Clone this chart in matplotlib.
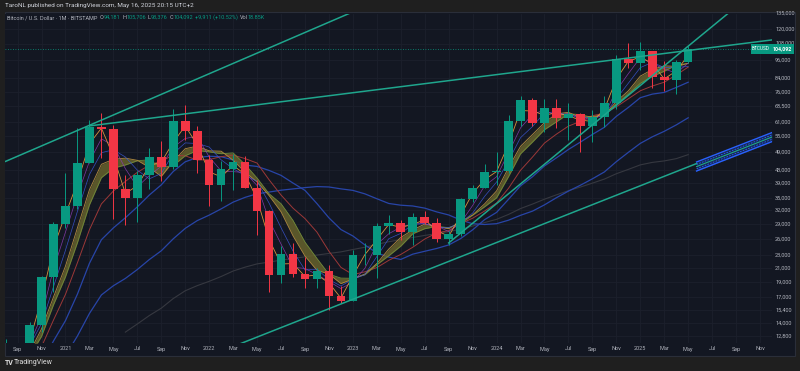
import numpy as np
import pandas as pd
import matplotlib
matplotlib.use("Agg")
import matplotlib.pyplot as plt
from matplotlib.patches import Rectangle
from matplotlib.transforms import blended_transform_factory

plt.rcParams['font.family'] = ['Roboto', 'DejaVu Sans']

# ---------------- data (monthly BTC/USD, Bitstamp) ----------------
months = ['2020-08', '2020-09', '2020-10', '2020-11', '2020-12',
          '2021-01', '2021-02', '2021-03', '2021-04', '2021-05', '2021-06',
          '2021-07', '2021-08', '2021-09', '2021-10', '2021-11', '2021-12',
          '2022-01', '2022-02', '2022-03', '2022-04', '2022-05', '2022-06',
          '2022-07', '2022-08', '2022-09', '2022-10', '2022-11', '2022-12',
          '2023-01', '2023-02', '2023-03', '2023-04', '2023-05', '2023-06',
          '2023-07', '2023-08', '2023-09', '2023-10', '2023-11', '2023-12',
          '2024-01', '2024-02', '2024-03', '2024-04', '2024-05', '2024-06',
          '2024-07', '2024-08', '2024-09', '2024-10', '2024-11', '2024-12',
          '2025-01', '2025-02', '2025-03', '2025-04', '2025-05']
opens = [11350, 11650, 10780, 13800, 19700,
         28990, 33110, 45190, 58760, 57700, 37300,
         35040, 41460, 47100, 43800, 61300, 57000,
         46200, 38480, 43180, 45530, 37640, 31790,
         19930, 23300, 20050, 19430, 20490, 17160,
         16540, 23130, 23140, 28460, 29250, 27210,
         30470, 29230, 25940, 26970, 34660, 37720,
         42280, 42580, 61170, 71330, 60650, 67520,
         62770, 64620, 58970, 63330, 70220, 96400,
         93380, 102400, 84350, 82550, 94181]
highs = [12480, 12080, 14100, 19860, 29300,
         41950, 58350, 61780, 64900, 59500, 41300,
         42600, 50500, 52900, 67000, 69000, 59100,
         47950, 45800, 48200, 47450, 40000, 31980,
         24650, 25200, 22800, 21000, 21450, 18400,
         23950, 25250, 29200, 31000, 29850, 31430,
         31800, 30180, 27480, 35000, 38450, 44700,
         48970, 64000, 73800, 72800, 71950, 71980,
         70000, 65100, 66500, 73620, 99650, 108300,
         109350, 102500, 95000, 95750, 105706]
lows = [10950, 9880, 10380, 13200, 17600,
        28130, 32300, 45000, 47000, 30000, 28800,
        29300, 37330, 39600, 43300, 53300, 42000,
        32950, 34300, 37200, 37700, 26700, 17600,
        18780, 19600, 18150, 18200, 15480, 16300,
        16500, 21400, 19570, 26940, 25800, 24750,
        28860, 25350, 24900, 26550, 34100, 37650,
        38500, 41880, 59000, 59100, 56550, 58400,
        53500, 49000, 52550, 58900, 66800, 90500,
        89200, 78200, 76600, 74500, 93376]
closes = [11650, 10780, 13800, 19700, 28990,
          33110, 45190, 58760, 57700, 37300, 35040,
          41460, 47100, 43800, 61300, 57000, 46200,
          38480, 43180, 45530, 37640, 31790, 19930,
          23300, 20050, 19430, 20490, 17160, 16540,
          23130, 23140, 28460, 29250, 27210, 30470,
          29230, 25940, 26970, 34660, 37720, 42280,
          42580, 61170, 71330, 60650, 67520, 62770,
          64620, 58970, 63330, 70220, 96400, 93380,
          102400, 84350, 82550, 94181, 104092]
# monthly closes Jul 2017 .. Jul 2020 (history feeding the moving averages)
history_closes = [2856, 4735, 4360, 6449, 9950, 13850,
                  10110, 10300, 6930, 9240, 7490, 6390, 7730, 7030, 6620, 6320, 4020, 3690,
                  3440, 3820, 4100, 5320, 8560, 10820, 10080, 9600, 8290, 9150, 7540, 7190,
                  9350, 8540, 6420, 8630, 9450, 9140, 11340]

price_ticks = [135000, 120000, 108000, 96000, 84000, 76000, 68500, 61000, 55000,
               49000, 43000, 39000, 35000, 32000, 29000, 26000, 23000, 21000,
               19000, 17000, 15400, 14000, 12800]
time_tick_months = ['2020-09', '2020-11', '2021-01', '2021-03', '2021-05', '2021-07',
                    '2021-09', '2021-11', '2022-01', '2022-03', '2022-05', '2022-07',
                    '2022-09', '2022-11', '2023-01', '2023-03', '2023-05', '2023-07',
                    '2023-09', '2023-11', '2024-01', '2024-03', '2024-05', '2024-07',
                    '2024-09', '2024-11', '2025-01', '2025-03', '2025-05', '2025-07',
                    '2025-09', '2025-11']

# drawn trend lines: (date, price) anchors
trend_upper = [('2020-08-01', 45700), ('2023-01-01', 136100)]
trend_flat = [('2021-03-01', 59200), ('2025-12-01', 110900)]
trend_support = [('2022-03-01', 11830), ('2025-05-22', 44980)]
trend_steep = [('2023-09-01', 25200), ('2025-09-01', 141200)]
channel_top = [('2025-05-22', 45500), ('2025-12-01', 56400)]
channel_in1 = [('2025-05-22', 44700), ('2025-12-01', 55400)]
channel_mid = [('2025-05-22', 44000), ('2025-12-01', 54600)]
channel_in2 = [('2025-05-22', 43300), ('2025-12-01', 53700)]
channel_bot = [('2025-05-22', 42600), ('2025-12-01', 52800)]


def mpos(s):
    parts = s.split('-')
    y, m = int(parts[0]), int(parts[1])
    d = int(parts[2]) if len(parts) > 2 else 1
    return (y - 2021) * 12 + m - 1 + (d - 1) / 30.0


x = np.array([mpos(s) for s in months], dtype=float)

# ---------------- figure ----------------
W, H = 800, 371
BG_OUT = '#1f1f1f'
BG = '#131722'
GRID = '#1c202c'
TXT = '#b2b5be'
UP = '#089981'
DN = '#f23645'

fig = plt.figure(figsize=(W / 100, H / 100), dpi=100, facecolor=BG_OUT)
fig.patches.append(Rectangle((5 / W, 1 - 356 / H), 790 / W, 344 / H,
                             transform=fig.transFigure, facecolor=BG,
                             edgecolor='#2a2e39', lw=0.8, zorder=-5))
ax = fig.add_axes([5 / W, 1 - 343 / H, 767 / W, 329 / H])
ax.set_zorder(1)
ax.set_facecolor(BG)
ax.set_yscale('log')
ax.set_ylim(12140, 134000)
ax.set_xlim(-5.05, 59.0)
for s in ax.spines.values():
    s.set_visible(False)
ax.set_xticks([])
ax.set_yticks([])
ax.minorticks_off()

# grid
for p in price_ticks:
    ax.axhline(p, color=GRID, lw=0.6, zorder=0)
for t in time_tick_months:
    ax.axvline(mpos(t), color=GRID, lw=0.6, zorder=0)

# moving averages (simple, monthly closes)
full = pd.Series(history_closes + closes, dtype=float)
n_hist = len(history_closes)
sma = {n: full.rolling(n).mean().values[n_hist:] for n in [2, 3, 4, 5, 6, 8, 12, 24, 48]}

ax.plot(x, sma[48], color='#363840', lw=0.8, zorder=1)
ax.plot(x, sma[24], color='#2845a8', lw=0.9, zorder=1)
ax.plot(x, sma[12], color='#2845a8', lw=0.9, zorder=1)

ax.fill_between(x, sma[5], sma[6], color='#66622c', alpha=0.85, lw=0, zorder=2)
ax.plot(x, sma[8], color='#9c3838', lw=0.7, zorder=2)
ax.plot(x, sma[6], color='#6f8a3a', lw=0.6, zorder=2)
ax.plot(x, sma[5], color='#b08a40', lw=0.6, zorder=2)
ax.plot(x, sma[4], color='#3a55d0', lw=0.5, alpha=0.9, zorder=2)
ax.plot(x, sma[3], color='#8a3cb0', lw=0.5, alpha=0.9, zorder=2)
ax.plot(x, sma[2], color='#e8a040', lw=0.6, alpha=0.9, zorder=2)

# candles
o = np.array(opens, float); h = np.array(highs, float)
l = np.array(lows, float); c = np.array(closes, float)
cols = [UP if cc >= oo else DN for oo, cc in zip(o, c)]
ax.vlines(x, l, h, colors=cols, lw=0.7, zorder=3)
ax.bar(x, np.abs(c - o), bottom=np.minimum(o, c), width=0.72, color=cols, zorder=4)


# trend lines
def tl(pts, **kw):
    xs = [mpos(p[0]) for p in pts]
    ys = [p[1] for p in pts]
    ax.plot(xs, ys, **kw)


TEAL = '#1fa68d'
tl(trend_upper, color=TEAL, lw=1.1, zorder=5)
tl(trend_flat, color=TEAL, lw=1.1, zorder=5)
tl(trend_support, color=TEAL, lw=1.1, zorder=5)
tl(trend_steep, color=TEAL, lw=1.1, zorder=5)

cx = [mpos(p[0]) for p in channel_top]
ax.fill_between(cx, [p[1] for p in channel_bot], [p[1] for p in channel_top],
                color='#2962ff', alpha=0.22, lw=0, zorder=5)
tl(channel_top, color='#2962ff', lw=1.0, zorder=6)
tl(channel_bot, color='#2962ff', lw=1.0, zorder=6)
tl(channel_in1, color='#2962ff', lw=0.6, ls=(0, (2, 1.5)), zorder=6)
tl(channel_in2, color='#2962ff', lw=0.6, ls=(0, (2, 1.5)), zorder=6)
tl(channel_mid, color=TEAL, lw=0.8, zorder=6)

# last price line
ax.axhline(closes[-1], color=UP, lw=0.6, ls=(0, (1, 2)), zorder=2)

# price axis labels
tr = blended_transform_factory(ax.transAxes, ax.transData)
for p in price_ticks:
    ax.text((775 - 5) / 767, p, f'{p:,}', transform=tr, color=TXT, fontsize=4.0,
            ha='left', va='center', clip_on=False)

# last price tags
fig.patches.append(Rectangle((751 / W, 1 - 54 / H), 20 / W, 10 / H, transform=fig.transFigure,
                             facecolor=UP, edgecolor='none', zorder=10))
fig.patches.append(Rectangle((771 / W, 1 - 54 / H), 23 / W, 10 / H, transform=fig.transFigure,
                             facecolor=UP, edgecolor='none', zorder=10))
fig.text(761 / W, 1 - 49 / H, 'BTCUSD', color='white', fontsize=3.4, ha='center', va='center', zorder=11)
fig.text(782.5 / W, 1 - 49 / H, f'{closes[-1]:,}', color='white', fontsize=3.8, ha='center',
         va='center', zorder=11, fontweight='bold')

# time axis labels
trx = blended_transform_factory(ax.transData, ax.transAxes)
for t in time_tick_months:
    yy, mm = t.split('-')
    lab = yy if mm == '01' else pd.Timestamp(t + '-01').strftime('%b')
    ax.text(mpos(t), -6 / 329, lab, transform=trx, color=TXT, fontsize=4.0,
            ha='center', va='center', clip_on=False)

# header
fig.text(5 / W, 1 - 6 / H, 'TaroNL published on TradingView.com, May 16, 2025 20:15 UTC+2',
         color='#d1d4dc', fontsize=4.6, ha='left', va='center')
hy = 1 - 17.5 / H
fig.canvas.draw()
renderer = fig.canvas.get_renderer()
parts = [('Bitcoin / U.S. Dollar · 1M · BITSTAMP', TXT, 2.5),
         ('O', TXT, 0), (f'{opens[-1]:,}', UP, 2), ('H', TXT, 0), (f'{highs[-1]:,}', UP, 2),
         ('L', TXT, 0), (f'{lows[-1]:,}', UP, 2), ('C', TXT, 0), (f'{closes[-1]:,}', UP, 2),
         (f'+{closes[-1] - opens[-1]:,} (+{(closes[-1] - opens[-1]) / opens[-1] * 100:.2f}%)', UP, 2),
         ('Vol', TXT, 0), ('18.85K', UP, 0)]
px = 7.0
for s, col, gap in parts:
    t = fig.text(px / W, hy, s, color=col, fontsize=4.0, va='center')
    bb = t.get_window_extent(renderer)
    px += bb.width + gap

# footer logo
fig.text(5 / W, 1 - 363 / H, 'TV', color='#e0e0e0', fontsize=5, fontweight='bold', va='center')
fig.text(14 / W, 1 - 363 / H, 'TradingView', color='#e0e0e0', fontsize=5, va='center')

fig.savefig('out.png', dpi=100, facecolor=BG_OUT)
